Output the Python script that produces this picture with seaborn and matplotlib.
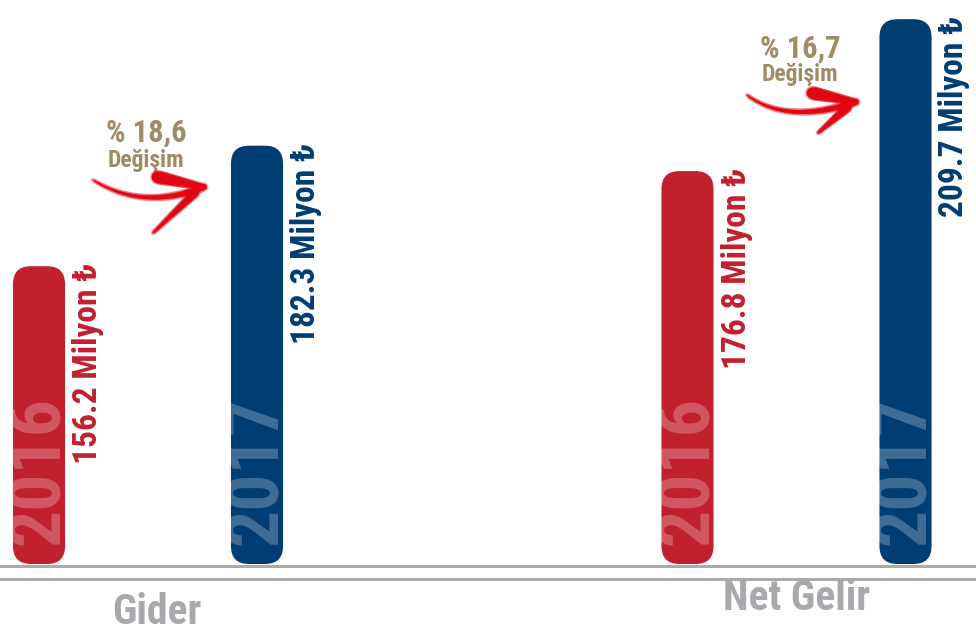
import numpy as np
import pandas as pd
import seaborn as sns
import matplotlib
matplotlib.use("Agg")
import matplotlib.pyplot as plt
import matplotlib.font_manager as fm
import matplotlib.transforms as mtransforms
from matplotlib.patches import FancyBboxPatch
from matplotlib.collections import LineCollection

# ---------------- data ----------------
categories = ["Gider", "Net Gelir"]
years = ["2016", "2017"]
values_2016 = [156.2, 176.8]
values_2017 = [182.3, 209.7]
change_labels = ["% 18,6", "% 16,7"]
change_word = "Değişim"
unit_label = "Milyon ₺"

# ---------------- style ----------------
sns.set_theme(style="white")
names = {f.name for f in fm.fontManager.ttflist}
narrow = next((n for n in ["Roboto Condensed", "Archivo Narrow", "Barlow Condensed",
                           "Liberation Sans Narrow"] if n in names), "DejaVu Sans")
FAM = [narrow, "DejaVu Sans"]
plt.rcParams["font.family"] = FAM

RED = "#C1202F"
NAVY = "#003D73"
TAN = "#A08C64"
GRAY = "#A7A9AC"
ARROW = "#E20613"

W, H = 976, 633
fig = plt.figure(figsize=(W / 100, H / 100), dpi=100)
ax = fig.add_axes([0, 0, 1, 1])

df = pd.DataFrame({
    "category": categories * 2,
    "year": [years[0]] * len(categories) + [years[1]] * len(categories),
    "value": values_2016 + values_2017,
})

sns.barplot(data=df, x="category", y="value", hue="year",
            palette=[RED, NAVY], width=0.6723, gap=0.761,
            legend=False, ax=ax, errorbar=None)

# scale: pixels per category unit and per value unit
px_x = 648.5
px_y = 4.617
base = 91.7          # value at the bar baseline
base_px = 564        # baseline pixel row from top
ax.set_xlim(-148 / px_x, (W - 148) / px_x)
ax.set_ylim(base - (H - base_px) / px_y, base + base_px / px_y)
ax.axis("off")

r = 18 / px_x
aspect = px_x / px_y

cols = [RED, NAVY]
for hi, cont in enumerate(ax.containers):
    for ci, rect in enumerate(cont):
        x0, w, val = rect.get_x(), rect.get_width(), rect.get_height()
        rect.remove()
        patch = FancyBboxPatch((x0, base), w, val - base,
                               boxstyle=f"round,pad=0,rounding_size={r}",
                               mutation_aspect=aspect,
                               facecolor=cols[hi], edgecolor="none", zorder=2)
        ax.add_patch(patch)
        xc = x0 + w / 2
        # year inside bar
        t = ax.text(xc, base, years[hi], rotation=90, ha="center", va="bottom",
                    fontsize=53, fontweight="bold", color="white", alpha=0.25,
                    family=FAM, zorder=3,
                    transform=mtransforms.offset_copy(ax.transData, fig=fig, x=0, y=19, units="dots"))
        t.set_clip_path(patch)
        # value label
        ax.text(xc, val, f"{val:.1f} {unit_label}", rotation=90, ha="center", va="top",
                fontsize=24, fontweight="bold", color=cols[hi], family=FAM, zorder=3,
                transform=mtransforms.offset_copy(ax.transData, fig=fig, x=49, y=3, units="dots"))

# baseline rules
for yy in (base_px + 1.5, base_px + 15):
    ax.axhline(base - (yy - base_px) / px_y, color="#ABABAB", lw=2.2, zorder=1)

# pixel-space transform (origin top-left)
PX = mtransforms.Affine2D().scale(1 / W, -1 / H).translate(0, 1) + fig.transFigure

# category labels
cat_pos = [(157, 612), (797, 598)]
for name, (x, y) in zip(categories, cat_pos):
    fig.text(x, y, name, transform=PX, ha="center", va="center",
             fontsize=30, fontweight="bold", color=GRAY, family=FAM)

# change annotations
chg_pos = [(146, 133, 160), (800, 49, 75)]
for lab, (x, y1, y2) in zip(change_labels, chg_pos):
    fig.text(x, y1, lab, transform=PX, ha="center", va="center",
             fontsize=22, fontweight="bold", color=TAN, family=FAM)
    fig.text(x, y2, change_word, transform=PX, ha="center", va="center",
             fontsize=17, fontweight="bold", color=TAN, family=FAM)


def stroke(p0, p1, w0, w1, ctrl=None, n=40):
    t = np.linspace(0, 1, n)[:, None]
    p0, p1 = np.array(p0, float), np.array(p1, float)
    if ctrl is None:
        pts = (1 - t) * p0 + t * p1
    else:
        c = np.array(ctrl, float)
        pts = (1 - t) ** 2 * p0 + 2 * (1 - t) * t * c + t ** 2 * p1
    segs = np.stack([pts[:-1], pts[1:]], axis=1)
    widths = np.linspace(w0, w1, n - 1) * 0.72
    for extra, a in ((2.5, 0.25), (0.0, 1.0)):
        lc = LineCollection(segs, linewidths=widths + extra, colors=ARROW, alpha=a,
                            capstyle="round", transform=PX, zorder=4)
        fig.add_artist(lc)


arrows = [
    dict(start=(93, 180), ctrl=(143, 211), tip=(204, 187), head0=(157, 177), barb=(153, 233)),
    dict(start=(747, 95), ctrl=(787, 125), tip=(856, 102), head0=(812, 93), barb=(818, 133)),
]
for a in arrows:
    stroke(a["start"], a["tip"], 1.5, 6, ctrl=a["ctrl"])
    stroke(a["head0"], a["tip"], 11, 4)
    tip = np.array(a["tip"]) + np.array([-8, 5])
    stroke(tuple(tip), a["barb"], 7, 1.5)

fig.savefig("out.png", dpi=100, facecolor="white")
